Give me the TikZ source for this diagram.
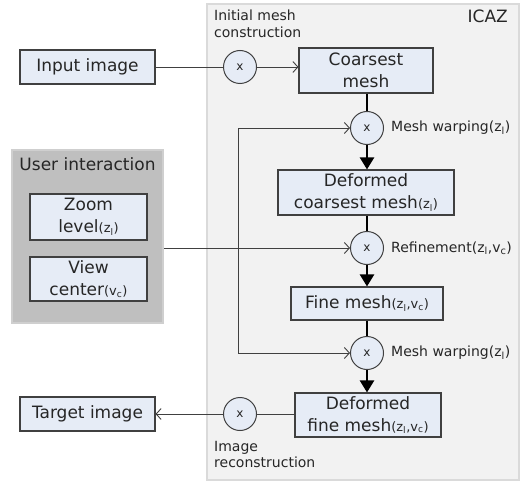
\documentclass[tikz,border=0pt]{standalone}
\usepackage{fontspec}
\setmainfont{DejaVu Sans}
\usetikzlibrary{arrows.meta}
\definecolor{boxfill}{HTML}{E6ECF6}
\definecolor{edgec}{HTML}{404040}
\definecolor{txtc}{HTML}{262626}
\definecolor{panelfill}{HTML}{F2F2F2}
\definecolor{paneledge}{HTML}{DADADA}
\definecolor{userfill}{HTML}{BFBFBF}
\definecolor{useredge}{HTML}{CFCFCF}
\newcommand\bigf{\fontsize{17}{22}\selectfont}
\newcommand\smallf{\fontsize{14}{16.5}\selectfont}
\newcommand\subf{\fontsize{13}{13}\selectfont}
\newcommand\zsub{(z\textsubscript{l})}
\newcommand\zvsub{(z\textsubscript{l},v\textsubscript{c})}
\newcommand\vsub{(v\textsubscript{c})}
\begin{document}
\begin{tikzpicture}[x=1pt,y=-1pt,
  blk/.style={draw=edgec, fill=boxfill, line width=1.1pt, inner sep=0pt, align=center, font=\bigf, text=txtc},
  circ/.style={circle, draw=edgec, fill=boxfill, line width=1pt, minimum size=33pt, inner sep=0pt, font=\fontsize{12}{12}\selectfont, text=txtc},
  lbl/.style={font=\smallf, text=txtc, inner sep=0pt, align=left},
  thinline/.style={line width=0.9pt, draw=edgec},
  thinarr/.style={thinline, -{Straight Barb[length=5pt,width=11pt]}},
  flowline/.style={line width=2.4pt, draw=black},
  flowarr/.style={flowline, -{Triangle[length=12pt,width=14pt]}}]
\useasboundingbox (0,0) rectangle (521,481);
% panels
\node[draw=paneledge, fill=panelfill, line width=1.5pt, minimum width=312pt, minimum height=476pt, inner sep=0pt] (icaz) at (363,242) {};
\node[draw=useredge, fill=userfill, line width=1.5pt, minimum width=151pt, minimum height=173pt, inner sep=0pt] (user) at (87.5,236.5) {};
\node[font=\bigf, text=txtc, inner sep=0pt, anchor=base east] (icazl) at (508,23) {ICAZ};
\node[font=\bigf, text=txtc, inner sep=0pt] (userl) at (87.5,164) {User interaction};
% boxes
\node[blk, minimum width=135pt, minimum height=34pt] (input) at (87.5,67) {Input image};
\node[blk, minimum width=135pt, minimum height=34pt] (target) at (87.5,414) {Target image};
\node[blk, minimum width=117pt, minimum height=46pt] (zoom) at (88.5,217) {Zoom\\level{\subf\zsub}};
\node[blk, minimum width=117pt, minimum height=44pt] (view) at (88.5,279) {View\\center{\subf\vsub}};
\node[blk, minimum width=134pt, minimum height=45pt] (coarse) at (366,70.5) {Coarsest\\mesh};
\node[blk, minimum width=176pt, minimum height=45pt] (defc) at (366,192.5) {Deformed\\coarsest mesh{\subf\zsub}};
\node[blk, minimum width=152pt, minimum height=33pt] (fine) at (367,303.5) {Fine mesh{\subf\zvsub}};
\node[blk, minimum width=146pt, minimum height=44pt] (deff) at (368,415) {Deformed\\fine mesh{\subf\zvsub}};
% circles
\node[circ] (c1) at (240,67) {x};
\node[circ] (c2) at (367,128) {x};
\node[circ] (c3) at (367,248) {x};
\node[circ] (c4) at (367,353) {x};
\node[circ] (c5) at (240,414) {x};
% labels
\node[lbl, anchor=north west] (initl) at (214,10) {Initial mesh\\construction};
\node[lbl, anchor=west] (warp1) at (391,128) {Mesh warping\zsub};
\node[lbl, anchor=west] (refl) at (391,248) {Refinement\zvsub};
\node[lbl, anchor=west] (warp2) at (391,353) {Mesh warping\zsub};
\node[lbl, anchor=north west] (recl) at (214,441) {Image\\reconstruction};
% connectors
\coordinate (vtop) at (238,128);
\coordinate (vbot) at (238,353);
\draw[thinline] (input.east) -- (c1.west);
\draw[thinarr] (c1.east) -- (c1.east -| coarse.west);
\draw[thinarr] (vbot) -- (vtop) -- (c2.west);
\draw[thinarr] (vbot) -- (c4.west);
\draw[thinarr] (c3 -| user.east) -- (c3.west);
\draw[thinline] (c5 -| deff.west) -- (c5.east);
\draw[thinarr] (c5.west) -- (target.east);
\draw[flowline] (c2 |- coarse.south) -- (c2.north);
\draw[flowarr] (c2.south) -- (c2 |- defc.north);
\draw[flowline] (c3 |- defc.south) -- (c3.north);
\draw[flowarr] (c3.south) -- (c3 |- fine.north);
\draw[flowline] (c4 |- fine.south) -- (c4.north);
\draw[flowarr] (c4.south) -- (c4 |- deff.north);
\end{tikzpicture}
\end{document}
